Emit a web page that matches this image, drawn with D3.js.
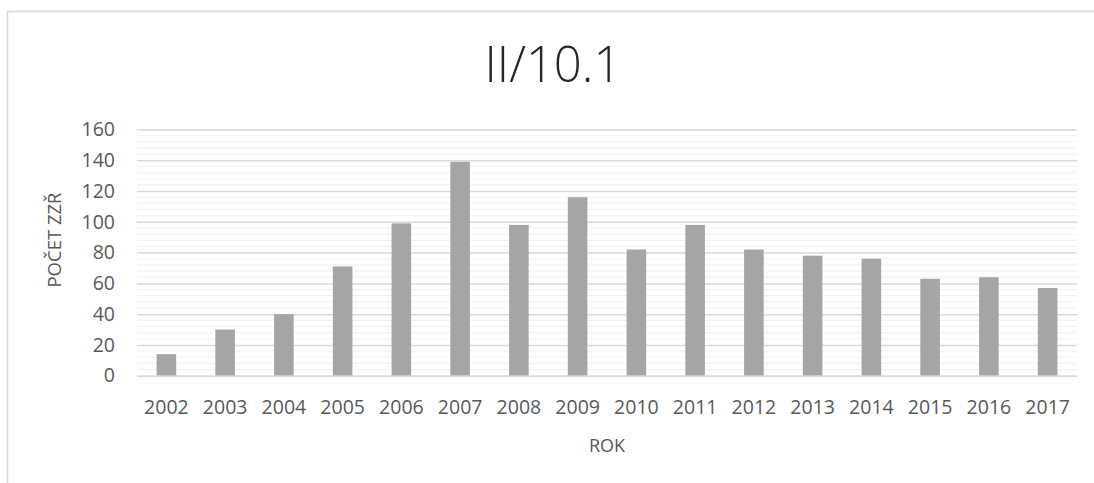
<!DOCTYPE html>
<html>
<head>
<meta charset="utf-8">
<script src="https://cdn.jsdelivr.net/npm/d3@7"></script>
<style>
  body { margin: 0; background: #fff; }
  text { font-family: "Open Sans", Lato, sans-serif; fill: #595959; }
</style>
</head>
<body>
<div id="chart"></div>
<script>
var years = ["2002","2003","2004","2005","2006","2007","2008","2009","2010","2011","2012","2013","2014","2015","2016","2017"];
var counts = [14, 30, 40, 71, 99, 139, 98, 116, 82, 98, 82, 78, 76, 63, 64, 57];
var yTicks = [0, 20, 40, 60, 80, 100, 120, 140, 160];
var title = "II/10.1";
var xTitle = "ROK";
var yTitle = "POČET ZZŘ";

var width = 1094,
    height = 483;

var svg = d3.select("#chart")
  .append("svg")
  .attr("width", width)
  .attr("height", height);

// chart area frame (runs off the right and bottom edge)
svg.append("rect")
  .attr("x", 7.5).attr("y", 11.5)
  .attr("width", 1100).attr("height", 480)
  .attr("fill", "none")
  .attr("stroke", "#d9d9d9")
  .attr("stroke-width", 1.5);

var plotL = 137, plotR = 1077, plotT = 129.5, plotB = 375.7;

var x = d3.scaleBand()
  .domain(years)
  .range([plotL, plotR])
  .paddingInner(2 / 3)
  .paddingOuter(1 / 3);

var y = d3.scaleLinear()
  .domain([0, 160])
  .range([plotB, plotT]);

// minor grid every 4
var minor = d3.range(4, 160, 4).filter(function(v) { return v % 20 != 0 });
svg.append("g").selectAll("line")
  .data(minor)
  .enter().append("line")
  .attr("x1", plotL).attr("x2", plotR)
  .attr("y1", function(d) { return y(d) })
  .attr("y2", function(d) { return y(d) })
  .attr("stroke", "#f2f2f2")
  .attr("stroke-width", 1.2);

var yAxis = svg.append("g")
  .attr("transform", "translate(" + plotL + ",0)")
  .call(d3.axisLeft(y).tickValues(yTicks).tickSize(-(plotR - plotL)).tickPadding(22));
yAxis.select(".domain").remove();
yAxis.selectAll(".tick line").attr("stroke", "#d9d9d9").attr("stroke-width", 1.5);
yAxis.selectAll(".tick text").style("font-size", "19.5px").attr("fill", "#595959");

svg.append("g").selectAll(".bar")
  .data(counts)
  .enter().append("rect")
  .attr("class", "bar")
  .attr("x", function(d, i) { return x(years[i]) })
  .attr("width", x.bandwidth())
  .attr("y", function(d) { return y(d) })
  .attr("height", function(d) { return y(0) - y(d) })
  .attr("fill", "#a5a5a5");

var xAxis = svg.append("g")
  .attr("transform", "translate(0," + plotB + ")")
  .call(d3.axisBottom(x).tickSize(0).tickPadding(24));
xAxis.select(".domain").attr("stroke", "#d9d9d9").attr("stroke-width", 1.5);
xAxis.selectAll(".tick text").style("font-size", "19.5px").attr("fill", "#595959");

svg.append("text")
  .attr("x", 553).attr("y", 82)
  .attr("text-anchor", "middle")
  .style("font-size", "49px")
  .style("font-weight", 300)
  .style("fill", "#262626")
  .text(title);

svg.append("text")
  .attr("x", (plotL + plotR) / 2).attr("y", 452)
  .attr("text-anchor", "middle")
  .style("font-size", "18px")
  .text(xTitle);

svg.append("text")
  .attr("transform", "translate(61,240) rotate(-90)")
  .attr("text-anchor", "middle")
  .style("font-size", "18.5px")
  .text(yTitle);
</script>
</body>
</html>
